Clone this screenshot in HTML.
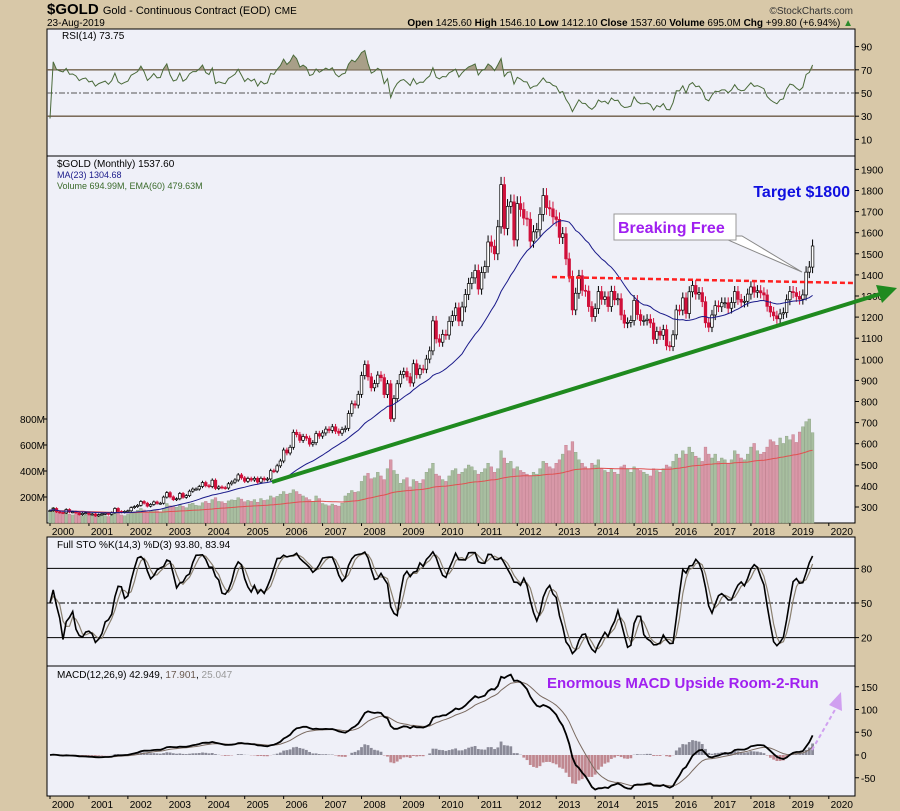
<!DOCTYPE html>
<html><head><meta charset="utf-8"><style>
body{margin:0;background:#d8c8a8;}
svg{display:block;font-family:"Liberation Sans",sans-serif;}
</style></head><body>
<svg id="c" width="900" height="811" viewBox="0 0 900 811">
<rect x="0" y="0" width="900" height="811" fill="#d8c8a8"/>
<text x="47" y="14" font-size="15" font-weight="bold" fill="#000">$GOLD <tspan font-size="11" font-weight="normal">Gold - Continuous Contract (EOD)</tspan> <tspan font-size="10" font-weight="normal">CME</tspan></text>
<text x="47" y="26" font-size="10" fill="#000">23-Aug-2019</text>
<text x="853" y="26" font-size="10" text-anchor="end" fill="#000"><tspan font-weight="bold">Open</tspan> 1425.60 <tspan font-weight="bold">High</tspan> 1546.10 <tspan font-weight="bold">Low</tspan> 1412.10 <tspan font-weight="bold">Close</tspan> 1537.60 <tspan font-weight="bold">Volume</tspan> 695.0M <tspan font-weight="bold">Chg</tspan> +99.80 (+6.94%) <tspan fill="#2a8a2a">▲</tspan></text>
<text x="853" y="14" font-size="10" text-anchor="end" fill="#333">©StockCharts.com</text>
<g id="g"></g>
</svg>
<script>
const closes=[283,293,277,274,272,288,276,277,273,264,270,272,
265,267,258,264,267,270,265,273,293,279,275,279,
282,297,302,308,326,318,304,312,324,317,318,347,
368,348,335,339,364,346,354,375,385,385,397,416,
401,397,427,388,395,392,390,410,418,428,452,438,
422,435,428,436,418,436,429,433,472,470,495,518,
570,556,583,654,643,616,634,626,598,605,648,636,
651,669,663,680,659,650,667,673,743,789,783,834,
923,975,917,865,885,925,913,833,884,718,814,884,
928,942,917,888,979,927,955,953,1001,1040,1182,1097,
1081,1118,1115,1180,1207,1244,1181,1248,1307,1359,1386,1421,
1333,1411,1439,1556,1536,1500,1628,1828,1620,1725,1746,1566,
1738,1710,1669,1664,1560,1604,1614,1687,1776,1719,1713,1675,
1663,1578,1595,1476,1393,1234,1313,1396,1327,1323,1250,1202,
1240,1321,1284,1296,1250,1322,1282,1287,1210,1171,1175,1184,
1279,1212,1183,1184,1190,1172,1095,1132,1114,1141,1064,1060,
1116,1234,1233,1291,1217,1320,1350,1309,1316,1273,1173,1152,
1210,1254,1249,1268,1268,1242,1269,1321,1284,1271,1275,1309,
1343,1318,1325,1315,1305,1251,1224,1206,1192,1215,1221,1282,
1321,1316,1298,1285,1305,1413,1437,1537];
const volumes=[95,120,85,75,70,85,68,62,72,80,56,60,
62,70,54,62,72,56,50,60,84,76,62,56,
66,80,86,98,112,100,84,92,98,95,86,112,
150,132,126,122,140,128,118,146,152,136,132,156,
166,152,180,195,166,164,152,170,178,175,195,184,
164,174,166,180,160,188,174,178,208,195,205,222,
242,222,230,256,242,222,208,195,180,166,208,188,
150,140,132,146,136,130,152,208,228,250,236,242,
320,362,382,340,348,390,362,334,418,486,404,376,
306,334,348,278,334,320,306,334,390,418,460,376,
362,334,320,362,404,418,376,390,418,446,432,404,
376,390,418,460,432,390,418,556,500,460,474,418,
432,404,390,376,362,390,376,418,474,460,432,418,
460,486,530,598,556,626,544,486,460,432,418,460,
446,486,418,404,390,418,390,376,432,446,418,390,
432,418,404,390,376,362,418,404,390,418,446,432,
474,530,500,556,530,584,544,514,500,474,584,530,
500,530,474,500,486,460,486,556,530,500,486,530,
584,612,556,530,544,584,640,626,598,654,612,668,
640,680,620,700,740,780,800,695];
const rsiTicks=[90,70,50,30,10];
const priceTicks=[1900,1800,1700,1600,1500,1400,1300,1200,1100,1000,900,800,700,600,500,400,300];
const volTicks=[800,600,400,200];
const stoTicks=[80,50,20];
const macdTicks=[150,100,50,0,-50];
const yearLabels=[2000,2001,2002,2003,2004,2005,2006,2007,2008,2009,2010,2011,2012,2013,2014,2015,2016,2017,2018,2019,2020];

const NS="http://www.w3.org/2000/svg";
const G=document.getElementById('g');
function mk(tag,a,parent){const e=document.createElementNS(NS,tag);for(const k in a)e.setAttribute(k,a[k]);(parent||G).appendChild(e);return e;}
const L=47,R=855,N=closes.length;
const xm=i=>50+i*3.245;
const yRsi=v=>93-(v-50)*1.16;
const yP=p=>507-(p-300)*0.211;
const yV=v=>523-v*0.13;
const ySto=v=>603-(v-50)*1.153;
const yM=v=>755-v*0.455;

const panels=[[29,156,'rsi-panel'],[156,523,'price-panel'],[537,666,'sto-panel'],[666,796,'macd-panel']];
panels.forEach(p=>{const r=mk('rect',{x:L,y:p[0],width:R-L,height:p[1]-p[0],fill:'#eff0f8',stroke:'#000','stroke-width':1});
});

function axisTicks(ticks,yf,fmt,name){ticks.forEach(t=>{const y=yf(t);
const l=mk('line',{x1:R,x2:R+4,y1:y,y2:y,stroke:'#000'});
const tx=mk('text',{x:R+6,y:y+4,'font-size':10,fill:'#000'});tx.textContent=fmt(t);});}
axisTicks(rsiTicks,yRsi,t=>t,'rsi-axis');
axisTicks(priceTicks,yP,t=>t,'price-axis');
axisTicks(stoTicks,ySto,t=>t,'sto-axis');
axisTicks(macdTicks,yM,t=>t,'macd-axis');
volTicks.forEach(t=>{const y=yV(t);const tx=mk('text',{x:L-2,y:y+4,'font-size':10,'text-anchor':'end',fill:'#000'});tx.textContent=t+'M';

const l=mk('line',{x1:L-3,x2:L,y1:y,y2:y,stroke:'#000'});});

[[523,537],[796,811]].forEach((b,k)=>{yearLabels.forEach(yr=>{const i=(yr-2000)*12;const x=xm(i);
const l=mk('line',{x1:x,x2:x,y1:b[0],y2:b[0]+3,stroke:'#000'});
const t=mk('text',{x:x+13,y:b[0]+12,'font-size':10,'text-anchor':'middle',fill:'#000'});t.textContent=yr;
});});

const opens=closes.map((c,i)=>i?closes[i-1]:c);
const highs=closes.map((c,i)=>Math.max(c,opens[i])*1.02);
const lows=closes.map((c,i)=>Math.min(c,opens[i])*0.98);
function ema(a,n){const k=2/(n+1);let o=[],e=a[0];a.forEach((v,i)=>{e=i?v*k+e*(1-k):v;o.push(e);});return o;}
function sma(a,n){return a.map((v,i)=>{const s=a.slice(Math.max(0,i-n+1),i+1);return s.reduce((x,y)=>x+y,0)/s.length;});}
let rsi=[],ag=0,al=0;
for(let i=0;i<N;i++){if(i===0){rsi.push(28);continue;}const d=closes[i]-closes[i-1];const g=Math.max(d,0),l=Math.max(-d,0);
if(i===1){ag=Math.max(g,3);al=Math.max(l,3);}else{ag=(ag*13+g)/14;al=(al*13+l)/14;}
rsi.push(al===0?100:100-100/(1+ag/al));}
function path(vals,xf,yf){return vals.map((v,i)=>(i?'L':'M')+xf(i).toFixed(1)+' '+yf(v).toFixed(1)).join(' ');}
[70,30].forEach(v=>{const l=mk('line',{x1:L,x2:R,y1:yRsi(v),y2:yRsi(v),stroke:'#6b5a45','stroke-width':1.3});});
{const l=mk('line',{x1:L,x2:R,y1:yRsi(50),y2:yRsi(50),stroke:'#555','stroke-dasharray':'6 2 2 2'});}
{const cl=mk('clipPath',{id:'rc'});mk('rect',{x:L,y:29,width:R-L,height:yRsi(70)-29},cl);
const a=mk('path',{d:path(rsi,xm,yRsi)+` L${xm(N-1)} ${yRsi(70)} L${xm(0)} ${yRsi(70)} Z`,fill:'#a89f88','clip-path':'url(#rc)'});
const p=mk('path',{d:path(rsi,xm,yRsi),fill:'none',stroke:'#4a6a3a','stroke-width':1});}
{const t=mk('text',{x:62,y:39,'font-size':10,fill:'#000'});t.textContent='RSI(14) 73.75';}

const vema=ema(volumes,60);
volumes.forEach((v,i)=>{const up=closes[i]>=opens[i];const r=mk('rect',{x:xm(i)-1.4,y:yV(v),width:2.8,height:523-yV(v),fill:up?'#a8bea0':'#d898a8',stroke:up?'#8aa080':'#c07888','stroke-width':0.4});
});
{const p=mk('path',{d:path(vema,xm,yV),fill:'none',stroke:'#e05050','stroke-width':1});}

closes.forEach((c,i)=>{const o=opens[i],up=c>=o,x=xm(i);
const w=mk('line',{x1:x,x2:x,y1:yP(highs[i]),y2:yP(lows[i]),stroke:up?'#000':'#d0103a'});
const top=yP(Math.max(o,c)),h=Math.max(1,Math.abs(yP(o)-yP(c)));
const b=mk('rect',{x:x-1.3,y:top,width:2.6,height:h,fill:up?'#fff':'#d0103a',stroke:up?'#000':'#d0103a','stroke-width':0.7});
});
const ma23=sma(closes,23);
{const p=mk('path',{d:path(ma23,xm,yP),fill:'none',stroke:'#1a1a8a','stroke-width':1});}

{const l=mk('line',{x1:272,y1:482,x2:880,y2:294,stroke:'#1f8a1f','stroke-width':4});
const a=mk('polygon',{points:'897,288 876,285 882,303',fill:'#1f8a1f'});
const d=mk('line',{x1:552,y1:277,x2:853,y2:283,stroke:'#ff2020','stroke-width':2.5,'stroke-dasharray':'5 3'});
const c=mk('polygon',{points:'735,236 742,236 802,272 728,240',fill:'#fff',stroke:'#888'});
const bx=mk('rect',{x:614,y:214,width:122,height:26,fill:'#fff',stroke:'#999'});
const t=mk('text',{x:618,y:233,'font-size':16,'font-weight':'bold',fill:'#a020f0'});t.textContent='Breaking Free';
const t2=mk('text',{x:850,y:197,'font-size':16,'font-weight':'bold','text-anchor':'end',fill:'#1010e0'});t2.textContent='Target $1800';}
[['$GOLD (Monthly) 1537.60','#000',167,'price-legend'],['MA(23) 1304.68','#1a1a8a',178,'ma-legend'],['Volume 694.99M, EMA(60) 479.63M','#3a6a2a',189,'volume-legend']].forEach(a=>{
const t=mk('text',{x:57,y:a[2],'font-size':a[3]==='price-legend'?10:9,fill:a[1]});t.textContent=a[0];});

let rawK=closes.map((c,i)=>{const s=Math.max(0,i-13);const hh=Math.max(...highs.slice(s,i+1)),ll=Math.min(...lows.slice(s,i+1));return hh>ll?100*(c-ll)/(hh-ll):50;});
const K=sma(rawK,3),D=sma(K,3);
[80,20].forEach(v=>{const l=mk('line',{x1:L,x2:R,y1:ySto(v),y2:ySto(v),stroke:'#000'});});
{const l=mk('line',{x1:L,x2:R,y1:ySto(50),y2:ySto(50),stroke:'#000','stroke-dasharray':'6 2 2 2'});
const d=mk('path',{d:path(D,xm,ySto),fill:'none',stroke:'#8a8070','stroke-width':1.2});
const k=mk('path',{d:path(K,xm,ySto),fill:'none',stroke:'#000','stroke-width':1.6});
const t=mk('text',{x:57,y:548,'font-size':10,fill:'#000'});t.textContent='Full STO %K(14,3) %D(3) 93.80, 83.94';}

const e12=ema(closes,12),e26=ema(closes,26);const macd=e12.map((v,i)=>v-e26[i]);const sig=ema(macd,9);
macd.forEach((m,i)=>{const h=m-sig[i];const y0=yM(0),y1=yM(h);
const r=mk('rect',{x:xm(i)-1.4,y:Math.min(y0,y1),width:2.8,height:Math.abs(y1-y0),fill:h>=0?'#8a8a98':'#c08890'});});
{const s=mk('path',{d:path(sig,xm,yM),fill:'none',stroke:'#7a6a60','stroke-width':1});
const m=mk('path',{d:path(macd,xm,yM),fill:'none',stroke:'#000','stroke-width':1.8});
const t=mk('text',{x:57,y:678,'font-size':10,fill:'#000'});t.innerHTML='MACD(12,26,9) 42.949, <tspan fill="#6a5a50">17.901</tspan>, <tspan fill="#999">25.047</tspan>';
const t2=mk('text',{x:547,y:688,'font-size':15,'font-weight':'bold',fill:'#a020f0'});t2.textContent='Enormous MACD Upside Room-2-Run';
const a=mk('line',{x1:812,y1:750,x2:836,y2:708,stroke:'#d0a0f0','stroke-width':2,'stroke-dasharray':'4 3'});
const ah=mk('polygon',{points:'841,692 829,705 842,711',fill:'#d0a0f0'});}
</script>
</body></html>
